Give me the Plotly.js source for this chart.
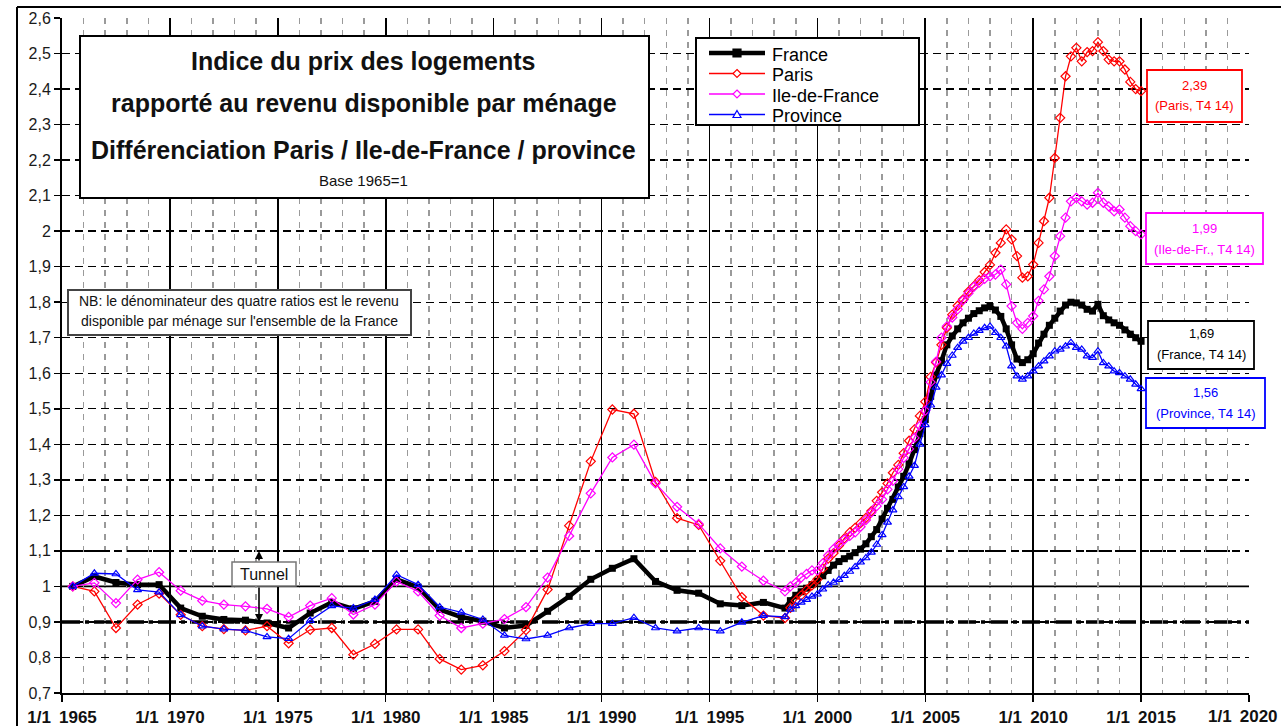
<!DOCTYPE html>
<html>
<head>
<meta charset="utf-8">
<script src="https://cdn.plot.ly/plotly-3.0.1.min.js"></script>
<style>
  html, body { margin: 0; padding: 0; background: #ffffff; }
  #chart { width: 1281px; height: 726px; }
</style>
</head>
<body>
<div id="chart"></div>
<script>
// ---------------- DATA ----------------
// Annual values (plotted at mid-year), 1965 .. 1998
const annualYears = [1965, 1966, 1967, 1968, 1969, 1970, 1971, 1972, 1973, 1974,
                     1975, 1976, 1977, 1978, 1979, 1980, 1981, 1982, 1983, 1984,
                     1985, 1986, 1987, 1988, 1989, 1990, 1991, 1992, 1993, 1994,
                     1995, 1996, 1997, 1998];

const franceAnnual = [1.00, 1.028, 1.011, 1.005, 1.005, 0.939, 0.916, 0.907, 0.905, 0.897,
                      0.883, 0.925, 0.955, 0.937, 0.958, 1.02, 0.998, 0.935, 0.914, 0.902,
                      0.883, 0.89, 0.93, 0.972, 1.02, 1.051, 1.078, 1.014, 0.989, 0.981,
                      0.951, 0.946, 0.955, 0.939];

const parisAnnual = [1.00, 0.986, 0.883, 0.949, 0.98, 0.92, 0.888, 0.88, 0.876, 0.888,
                     0.84, 0.878, 0.883, 0.808, 0.838, 0.879, 0.879, 0.796, 0.766, 0.778,
                     0.818, 0.877, 0.991, 1.171, 1.352, 1.498, 1.486, 1.294, 1.192, 1.173,
                     1.072, 0.970, 0.918, 0.911];

const idfAnnual = [1.00, 1.01, 0.953, 1.019, 1.04, 0.988, 0.96, 0.949, 0.944, 0.937,
                   0.914, 0.946, 0.967, 0.921, 0.949, 1.014, 0.986, 0.918, 0.883, 0.895,
                   0.908, 0.942, 1.025, 1.142, 1.262, 1.363, 1.399, 1.29, 1.224, 1.176,
                   1.107, 1.056, 1.016, 0.986];

const provinceAnnual = [1.00, 1.037, 1.035, 0.99, 0.984, 0.92, 0.888, 0.88, 0.876, 0.858,
                        0.853, 0.904, 0.945, 0.939, 0.963, 1.033, 1.005, 0.942, 0.927, 0.907,
                        0.862, 0.852, 0.862, 0.883, 0.895, 0.895, 0.912, 0.883, 0.874, 0.883,
                        0.874, 0.899, 0.918, 0.914];

// Quarterly values (plotted at quarter end), T3 1998 .. T4 2014
const firstQuarter = { year: 1998, q: 3 };
const lastQuarter  = { year: 2014, q: 4 };

const franceQuarterly = [0.96, 0.975, 0.985, 0.995, 1.005, 1.015, 1.03, 1.045, 1.06, 1.07,
                         1.078, 1.085, 1.095, 1.105, 1.12, 1.14, 1.16, 1.19, 1.22, 1.245,
                         1.28, 1.31, 1.345, 1.385, 1.43, 1.47, 1.535, 1.595, 1.635, 1.68,
                         1.705, 1.725, 1.742, 1.755, 1.768, 1.776, 1.784, 1.788, 1.778, 1.76,
                         1.725, 1.68, 1.64, 1.63, 1.638, 1.655, 1.685, 1.71, 1.735, 1.755,
                         1.775, 1.792, 1.80, 1.798, 1.792, 1.78, 1.775, 1.794, 1.762, 1.75,
                         1.742, 1.735, 1.722, 1.71, 1.70, 1.69];

const parisQuarterly = [0.94, 0.96, 0.975, 0.99, 1.003, 1.02, 1.05, 1.078, 1.094, 1.115,
                        1.135, 1.152, 1.165, 1.178, 1.193, 1.212, 1.241, 1.265, 1.29, 1.32,
                        1.342, 1.375, 1.41, 1.442, 1.48, 1.52, 1.59, 1.63, 1.68, 1.728,
                        1.765, 1.79, 1.808, 1.83, 1.845, 1.862, 1.885, 1.905, 1.939, 1.967,
                        2.005, 1.977, 1.93, 1.869, 1.873, 1.906, 1.967, 2.028, 2.094, 2.206,
                        2.319, 2.436, 2.492, 2.516, 2.478, 2.504, 2.507, 2.532, 2.507, 2.483,
                        2.478, 2.478, 2.455, 2.42, 2.40, 2.394];

const idfQuarterly = [1.00, 1.01, 1.025, 1.035, 1.045, 1.045, 1.065, 1.087, 1.105, 1.12,
                      1.132, 1.142, 1.152, 1.168, 1.187, 1.208, 1.226, 1.245, 1.273, 1.297,
                      1.33, 1.362, 1.387, 1.418, 1.452, 1.495, 1.575, 1.633, 1.70, 1.732,
                      1.757, 1.78, 1.805, 1.825, 1.843, 1.855, 1.866, 1.873, 1.878, 1.892,
                      1.85, 1.789, 1.742, 1.725, 1.742, 1.761, 1.804, 1.836, 1.873, 1.93,
                      1.986, 2.038, 2.084, 2.094, 2.084, 2.075, 2.08, 2.108, 2.08, 2.07,
                      2.056, 2.061, 2.038, 2.014, 2.0, 1.991];

const provinceQuarterly = [0.935, 0.945, 0.955, 0.963, 0.972, 0.978, 0.992, 1.004, 1.011, 1.019,
                           1.03, 1.042, 1.055, 1.068, 1.08, 1.096, 1.118, 1.145, 1.18, 1.215,
                           1.252, 1.28, 1.31, 1.34, 1.40, 1.455, 1.51, 1.56, 1.595, 1.627,
                           1.65, 1.672, 1.69, 1.70, 1.712, 1.72, 1.728, 1.732, 1.714, 1.70,
                           1.676, 1.62, 1.592, 1.583, 1.592, 1.606, 1.62, 1.634, 1.648, 1.662,
                           1.667, 1.676, 1.686, 1.672, 1.667, 1.648, 1.644, 1.662, 1.629, 1.62,
                           1.606, 1.601, 1.592, 1.583, 1.569, 1.556];

const seriesNames = ['France', 'Paris', 'Ile-de-France', 'Province'];
const endLabelNames = ['France', 'Paris', 'Ile-de-Fr.', 'Province'];
const tickYears = [1965, 1970, 1975, 1980, 1985, 1990, 1995, 2000, 2005, 2010, 2015, 2020];
const yTickValues = [0.7, 0.8, 0.9, 1.0, 1.1, 1.2, 1.3, 1.4, 1.5, 1.6, 1.7, 1.8, 1.9, 2.0,
                     2.1, 2.2, 2.3, 2.4, 2.5, 2.6];

// ---------------- BUILD ----------------
const FONT = 'Arial, "Liberation Sans", Helvetica, sans-serif';

const quarterLabels = [];
for (let y = firstQuarter.year; y <= lastQuarter.year; y++) {
  for (let q = 1; q <= 4; q++) {
    if (y === firstQuarter.year && q < firstQuarter.q) continue;
    if (y === lastQuarter.year && q > lastQuarter.q) continue;
    quarterLabels.push('T' + q + ' ' + y);
  }
}
const xAnnual = annualYears.map(y => y + 0.5);
const xQuarterly = quarterLabels.map(l => {
  const parts = l.split(' ');
  return Number(parts[1]) + Number(parts[0].slice(1)) * 0.25;
});
const xAll = xAnnual.concat(xQuarterly);

const seriesData = [
  franceAnnual.concat(franceQuarterly),
  parisAnnual.concat(parisQuarterly),
  idfAnnual.concat(idfQuarterly),
  provinceAnnual.concat(provinceQuarterly)
];

const styles = [
  { color: '#000000', width: 4.5, symbol: 'square', size: 7, mline: 0 },
  { color: '#FF0000', width: 1.3, symbol: 'diamond-open', size: 7, mline: 1.2 },
  { color: '#FF00FF', width: 1.3, symbol: 'diamond-open', size: 7, mline: 1.2 },
  { color: '#0000FF', width: 1.3, symbol: 'triangle-up-open', size: 7, mline: 1.2 }
];

const traces = seriesData.map((vals, i) => ({
  type: 'scatter',
  mode: 'lines+markers',
  name: seriesNames[i],
  x: xAll,
  y: vals,
  showlegend: false,
  line: { color: styles[i].color, width: styles[i].width },
  marker: { symbol: styles[i].symbol, size: styles[i].size, color: styles[i].color,
            line: { color: styles[i].color, width: styles[i].mline } },
  hoverinfo: 'skip'
}));

// pixel -> paper helpers (layout positioning only)
const PL = 62, PR = 1249, PT = 18, PB = 693;
const px = v => (v - PL) / (PR - PL);
const py = v => (PB - v) / (PB - PT);

const shapes = [];
const annotations = [];

// reference lines: 1 (solid), tunnel 0.9 and 1.1
shapes.push({ type: 'line', xref: 'paper', yref: 'y', x0: 0, x1: 1, y0: 1, y1: 1,
  line: { color: '#000', width: 1.6 }, layer: 'between' });
shapes.push({ type: 'line', xref: 'paper', yref: 'y', x0: 0, x1: 1, y0: 0.9, y1: 0.9,
  line: { color: '#000', width: 3.5, dash: '18px,5px,4px,5px' }, layer: 'between' });
shapes.push({ type: 'line', xref: 'paper', yref: 'y', x0: 0, x1: 1, y0: 1.1, y1: 1.1,
  line: { color: '#000', width: 2, dash: '16px,6px,4px,6px' }, layer: 'between' });

// outer chart frame (left and top)
shapes.push({ type: 'line', xref: 'paper', yref: 'paper', x0: px(17), x1: px(17), y0: py(7), y1: py(730),
  line: { color: '#000', width: 2 } });
shapes.push({ type: 'line', xref: 'paper', yref: 'paper', x0: px(17), x1: px(1290), y0: py(7), y1: py(7),
  line: { color: '#000', width: 2 } });

// title box
shapes.push({ type: 'rect', xref: 'paper', yref: 'paper', x0: px(80), x1: px(649), y0: py(198), y1: py(36),
  line: { color: '#000', width: 2 }, fillcolor: '#fff', layer: 'above' });
const titleLines = [
  { t: '<b>Indice du prix des logements</b>', y: 61, s: 25 },
  { t: '<b>rapporté au revenu disponible par ménage</b>', y: 103, s: 25 },
  { t: '<b>Différenciation Paris / Ile-de-France / province</b>', y: 150, s: 25 },
  { t: 'Base 1965=1', y: 180, s: 15 }
];
titleLines.forEach(l => annotations.push({ xref: 'paper', yref: 'paper', x: px(364), y: py(l.y),
  text: l.t, showarrow: false, xanchor: 'center', yanchor: 'middle',
  font: { family: FONT, size: l.s, color: '#111' } }));

// NB box
shapes.push({ type: 'rect', xref: 'paper', yref: 'paper', x0: px(68), x1: px(411), y0: py(335), y1: py(290),
  line: { color: '#444', width: 2 }, fillcolor: '#fff', layer: 'above' });
annotations.push({ xref: 'paper', yref: 'paper', x: px(239), y: py(301),
  text: 'NB: le dénominateur des quatre ratios est le revenu', showarrow: false,
  xanchor: 'center', yanchor: 'middle', font: { family: FONT, size: 14, color: '#111' } });
annotations.push({ xref: 'paper', yref: 'paper', x: px(239), y: py(321),
  text: "disponible par ménage sur l'ensemble de la France", showarrow: false,
  xanchor: 'center', yanchor: 'middle', font: { family: FONT, size: 14, color: '#111' } });

// Tunnel box & arrows
shapes.push({ type: 'rect', xref: 'paper', yref: 'paper', x0: px(232), x1: px(296), y0: py(586), y1: py(562),
  line: { color: '#777', width: 1.5 }, fillcolor: '#fff', layer: 'above' });
annotations.push({ xref: 'paper', yref: 'paper', x: px(264), y: py(574), text: 'Tunnel',
  showarrow: false, xanchor: 'center', yanchor: 'middle', font: { family: FONT, size: 16, color: '#111' } });
annotations.push({ xref: 'paper', yref: 'y', x: px(259), y: 1.1, text: '', showarrow: true,
  ax: 0, ay: 11, arrowhead: 2, arrowsize: 1, arrowwidth: 1.6, arrowcolor: '#000' });
annotations.push({ xref: 'paper', yref: 'y', x: px(259), y: 0.9, text: '', showarrow: true,
  ax: 0, ay: -36, arrowhead: 2, arrowsize: 1, arrowwidth: 1.6, arrowcolor: '#000' });

// legend (drawn as a framed key)
shapes.push({ type: 'rect', xref: 'paper', yref: 'paper', x0: px(696), x1: px(919), y0: py(125), y1: py(38),
  line: { color: '#000', width: 2 }, fillcolor: '#fff', layer: 'above' });
const legendRowY = [53, 73.5, 94, 114.5];
const legendTextY = [55, 75.5, 96, 116];
seriesNames.forEach((n, i) => {
  const yy = legendRowY[i];
  const st = styles[i];
  shapes.push({ type: 'line', xref: 'paper', yref: 'paper', x0: px(709), x1: px(765), y0: py(yy), y1: py(yy),
    line: { color: st.color, width: st.width }, layer: 'above' });
  const cx = 737, r = 4;
  let path;
  if (st.symbol === 'square') {
    path = `M${px(cx - r)},${py(yy - r)} L${px(cx + r)},${py(yy - r)} L${px(cx + r)},${py(yy + r)} L${px(cx - r)},${py(yy + r)} Z`;
  } else if (st.symbol === 'diamond-open') {
    path = `M${px(cx)},${py(yy - r)} L${px(cx + r)},${py(yy)} L${px(cx)},${py(yy + r)} L${px(cx - r)},${py(yy)} Z`;
  } else {
    path = `M${px(cx)},${py(yy - r)} L${px(cx + r)},${py(yy + 3)} L${px(cx - r)},${py(yy + 3)} Z`;
  }
  shapes.push({ type: 'path', xref: 'paper', yref: 'paper', path: path,
    fillcolor: st.symbol === 'square' ? st.color : '#fff',
    line: { color: st.color, width: 1.2 }, layer: 'above' });
  annotations.push({ xref: 'paper', yref: 'paper', x: px(770), y: py(legendTextY[i]), text: n,
    showarrow: false, xanchor: 'left', yanchor: 'middle',
    font: { family: FONT, size: 18, color: '#000' } });
});

// end-value label boxes
const endBoxes = [
  { x0: 1148, x1: 1254, y0: 321, y1: 369, ty1: 333, ty2: 354 },
  { x0: 1147, x1: 1242, y0: 70, y1: 122, ty1: 85, ty2: 106 },
  { x0: 1146, x1: 1263, y0: 213, y1: 264, ty1: 228, ty2: 249 },
  { x0: 1146, x1: 1265, y0: 378, y1: 428, ty1: 392, ty2: 413 }
];
const lastQ = quarterLabels[quarterLabels.length - 1].split(' ');
const lastQShort = lastQ[0] + ' ' + lastQ[1].slice(2);
seriesData.forEach((vals, i) => {
  const b = endBoxes[i];
  const c = styles[i].color;
  const val = vals[vals.length - 1].toFixed(2).replace('.', ',');
  shapes.push({ type: 'rect', xref: 'paper', yref: 'paper', x0: px(b.x0), x1: px(b.x1), y0: py(b.y1), y1: py(b.y0),
    line: { color: c, width: 1.8 }, fillcolor: '#fff', layer: 'above' });
  const cx = px((b.x0 + b.x1) / 2);
  annotations.push({ xref: 'paper', yref: 'paper', x: cx, y: py(b.ty1), text: val, showarrow: false,
    xanchor: 'center', yanchor: 'middle', font: { family: FONT, size: 13, color: c } });
  annotations.push({ xref: 'paper', yref: 'paper', x: cx, y: py(b.ty2),
    text: '(' + endLabelNames[i] + ', ' + lastQShort + ')', showarrow: false,
    xanchor: 'center', yanchor: 'middle', font: { family: FONT, size: 13, color: c } });
});

// x tick labels: last one (at the right edge) is right-aligned so it stays inside the picture
const tickLabel = y => '1/1\u2009 ' + y;
const lastTickYear = tickYears[tickYears.length - 1];
annotations.push({ xref: 'paper', yref: 'paper', x: px(1280), y: py(716), text: tickLabel(lastTickYear),
  showarrow: false, xanchor: 'right', yanchor: 'middle',
  font: { family: FONT, size: 17, color: '#111', weight: 'bold' } });

const layout = {
  width: 1281,
  height: 726,
  margin: { l: PL, r: 1281 - PR, t: PT, b: 726 - PB, pad: 0 },
  paper_bgcolor: '#ffffff',
  plot_bgcolor: '#ffffff',
  separators: ', ',
  showlegend: false,
  xaxis: {
    type: 'linear',
    range: [1965, 2020],
    tickmode: 'array',
    tickvals: tickYears,
    ticktext: tickYears.map(y => (y === lastTickYear ? '' : tickLabel(y))),
    tickfont: { family: FONT, size: 17, color: '#111', weight: 'bold' },
    ticks: 'outside', ticklen: 7, tickwidth: 1.5, tickcolor: '#000',
    ticklabelstandoff: 1,
    ticklabeloverflow: 'allow',
    showgrid: true, gridcolor: '#000', gridwidth: 1.6,
    minor: { tick0: 1965, dtick: 1, showgrid: true, gridcolor: '#9a9a9a', gridwidth: 1.5, griddash: '6px,6px' },
    showline: true, linecolor: '#000', linewidth: 2,
    zeroline: false, fixedrange: true
  },
  yaxis: {
    range: [0.7, 2.6],
    tickmode: 'array',
    tickvals: yTickValues,
    tickfont: { family: FONT, size: 16, color: '#1a1a1a' },
    ticks: 'outside', ticklen: 6, tickwidth: 1.5, tickcolor: '#000',
    showgrid: true, gridcolor: '#000', gridwidth: 1.4, griddash: '8px,5px',
    showline: true, linecolor: '#000', linewidth: 2,
    zeroline: false, fixedrange: true
  },
  shapes: shapes,
  annotations: annotations
};

Plotly.newPlot('chart', traces, layout, { displayModeBar: false, staticPlot: true });
</script>
</body>
</html>
